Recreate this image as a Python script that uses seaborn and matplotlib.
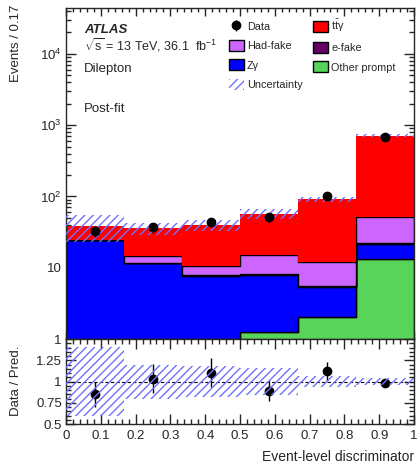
import numpy as np
import pandas as pd
import matplotlib
matplotlib.use("Agg")
import matplotlib.pyplot as plt
from matplotlib.colors import to_rgba
from matplotlib.patches import Patch
from matplotlib.ticker import FixedLocator, FixedFormatter, MultipleLocator, LogLocator, NullFormatter
import seaborn as sns

# ---- binned yields (post-fit) ----
bin_edges = [0, 1 / 6, 2 / 6, 3 / 6, 4 / 6, 5 / 6, 1]
ttgamma = [14.2, 21.1, 29.1, 42.0, 79.0, 656.0]
had_fake = [0.4, 3.2, 2.9, 6.8, 6.7, 28.6]
e_fake = [0.15, 0.1, 0.1, 0.4, 0.1, 0.9]
z_gamma = [24.2, 11.5, 7.7, 6.6, 3.37, 8.4]
other_prompt = [0.0, 0.0, 0.0, 1.27, 2.05, 13.1]
data_counts = [33, 37, 44, 51, 102, 693]
rel_uncertainty = [0.41, 0.20, 0.18, 0.16, 0.07, 0.047]

process_names = ["ttgamma", "Had-fake", "e-fake", "Zgamma", "Other prompt"]
process_labels = [r"$\mathrm{t\bar{t}\gamma}$", "Had-fake", "e-fake", "Zγ", "Other prompt"]
process_colors = ["#ff0000", "#cc66ff", "#660066", "#0000ff", "#59d45a"]
hatch_color = "#7070ff"

sns.set_style("ticks")
plt.rcParams["font.family"] = ["Liberation Sans", "DejaVu Sans"]
plt.rcParams["mathtext.fontset"] = "custom"
plt.rcParams["mathtext.rm"] = "Liberation Sans"
plt.rcParams["mathtext.it"] = "Liberation Sans:italic"
plt.rcParams["mathtext.bf"] = "Liberation Sans:bold"
plt.rcParams["hatch.linewidth"] = 1.0
plt.rcParams["axes.linewidth"] = 1.0

edges = np.array(bin_edges)
centers = 0.5 * (edges[:-1] + edges[1:])
yields = dict(zip(process_names, [ttgamma, had_fake, e_fake, z_gamma, other_prompt]))
df = pd.DataFrame(
    [{"x": c, "n": v, "process": p} for p in process_names for c, v in zip(centers, yields[p])]
)
pred = np.sum([np.array(yields[p]) for p in process_names], axis=0)
data = np.array(data_counts, dtype=float)
rel = np.array(rel_uncertainty)

W, H = 420, 465
fig = plt.figure(figsize=(W / 100, H / 100), dpi=100)
ax = fig.add_axes([66 / W, 1 - 339 / H, 348 / W, 331 / H])
axr = fig.add_axes([66 / W, 1 - 424 / H, 348 / W, 85 / H], sharex=ax)

# ---- main panel: stacked prediction ----
ax.set_yscale("log")
sns.histplot(
    data=df, x="x", weights="n", hue="process", hue_order=process_names,
    palette=dict(zip(process_names, process_colors)), bins=bin_edges,
    multiple="stack", element="step", fill=True, alpha=1,
    edgecolor="black", linewidth=1.0, legend=False, ax=ax,
)
# the signal layer on top of the stack carries no outline
red = np.array(to_rgba(process_colors[0]))
for coll in ax.collections:
    fc = coll.get_facecolor()
    if len(fc) and np.allclose(fc[0], red):
        coll.set_linewidth(0)

lo_ext = np.append(pred * (1 - rel), pred[-1] * (1 - rel[-1]))
hi_ext = np.append(pred * (1 + rel), pred[-1] * (1 + rel[-1]))
ax.fill_between(edges, lo_ext, hi_ext, step="post", facecolor="none",
                edgecolor=hatch_color, linewidth=0, hatch="////", zorder=3)
ax.errorbar(centers, data, yerr=np.sqrt(data), fmt="o", color="black",
            ms=6, elinewidth=1, capsize=0, zorder=5)

ax.set_xlim(0, 1)
ax.set_ylim(1, 4.4e4)
ax.set_xlabel("")
ax.set_ylabel("")
ax.yaxis.set_major_locator(FixedLocator([1, 10, 100, 1e3, 1e4]))
ax.yaxis.set_major_formatter(FixedFormatter(["1", "10", r"$10^{2}$", r"$10^{3}$", r"$10^{4}$"]))
ax.yaxis.set_minor_locator(LogLocator(base=10, subs=np.arange(2, 10)))
ax.yaxis.set_minor_formatter(NullFormatter())
ax.xaxis.set_major_locator(MultipleLocator(0.1))
ax.xaxis.set_minor_locator(MultipleLocator(0.02))
ax.tick_params(axis="x", which="both", labelbottom=False)
ax.tick_params(which="both", direction="in", top=True, right=True, width=1)
ax.tick_params(axis="y", which="major", length=7.5, labelsize=9.5, pad=3)
ax.tick_params(axis="y", which="minor", length=3.8)
ax.tick_params(axis="x", which="major", length=6)
ax.tick_params(axis="x", which="minor", length=3)

# ---- ratio panel ----
ratio = data / pred
axr.errorbar(centers, ratio, yerr=np.sqrt(data) / pred, fmt="o", color="black",
             ms=6, elinewidth=1, capsize=0, zorder=4)
axr.fill_between(edges, np.append(1 - rel, 1 - rel[-1]), np.append(1 + rel, 1 + rel[-1]),
                 step="post", facecolor="none", edgecolor=hatch_color, linewidth=0,
                 hatch="////", zorder=5)
axr.axhline(1, color="black", ls=(0, (3, 2)), lw=0.8, zorder=3)
axr.set_ylim(0.5, 1.5)
axr.set_xlim(0, 1)
axr.yaxis.set_major_locator(FixedLocator([0.5, 0.75, 1, 1.25, 1.5]))
axr.yaxis.set_major_formatter(FixedFormatter(["0.5", "0.75", "1", "1.25", ""]))
axr.yaxis.set_minor_locator(MultipleLocator(0.05))
axr.xaxis.set_major_locator(MultipleLocator(0.1))
axr.xaxis.set_major_formatter(matplotlib.ticker.FuncFormatter(lambda v, _: f"{v:g}"))
axr.xaxis.set_minor_locator(MultipleLocator(0.02))
axr.tick_params(which="both", direction="in", top=True, right=True, width=1, labelsize=9.5)
axr.tick_params(axis="x", which="major", length=7.5, pad=4)
axr.tick_params(axis="x", which="minor", length=3.8)
axr.tick_params(axis="y", which="major", length=7.5, pad=3)
axr.tick_params(axis="y", which="minor", length=3.8)
axr.set_xlabel("")
axr.set_ylabel("")

# ---- axis titles ----
fig.text(16 / W, 1 - 5 / H, "Events / 0.17", rotation=90, ha="center", va="top", fontsize=9.5)
fig.text(16 / W, 1 - 381 / H, "Data / Pred.", rotation=90, ha="center", va="center", fontsize=9.5)
fig.text(414 / W, 1 - 461 / H, "Event-level discriminator", ha="right", va="baseline", fontsize=10)

# ---- labels ----
fig.text(84 / W, 1 - 33 / H, "ATLAS", fontsize=9.5, fontweight="bold", fontstyle="italic", va="baseline")
fig.text(84 / W, 1 - 50 / H, r"$\sqrt{\mathrm{s}}$ = 13 TeV, 36.1  fb$^{-1}$", fontsize=9, va="baseline")
fig.text(84 / W, 1 - 72 / H, "Dilepton", fontsize=9.5, va="baseline")
fig.text(84 / W, 1 - 112 / H, "Post-fit", fontsize=9.5, va="baseline")

# ---- legend ----
data_handle = ax.errorbar([np.nan], [np.nan], yerr=[1], fmt="o", color="black", ms=6, elinewidth=1, capsize=0)
patch = {p: Patch(facecolor=c, edgecolor="black", linewidth=1) for p, c in zip(process_names, process_colors)}
lab = dict(zip(process_names, process_labels))
unc_handle = Patch(facecolor="none", edgecolor=hatch_color, linewidth=0, hatch="////")
handles = [data_handle, patch["Had-fake"], patch["Zgamma"], unc_handle,
           patch["ttgamma"], patch["e-fake"], patch["Other prompt"]]
labels = ["Data", lab["Had-fake"], lab["Zgamma"], "Uncertainty",
          lab["ttgamma"], lab["e-fake"], lab["Other prompt"]]
ax.legend(handles, labels, ncol=2, loc="upper left", bbox_to_anchor=(229 / W, 1 - 18 / H),
          bbox_transform=fig.transFigure, frameon=False, fontsize=7.8, borderpad=0,
          borderaxespad=0, handlelength=1.35, handleheight=1.2, handletextpad=0.3,
          labelspacing=0.74, columnspacing=1.0)

fig.savefig("out.png", dpi=100)
